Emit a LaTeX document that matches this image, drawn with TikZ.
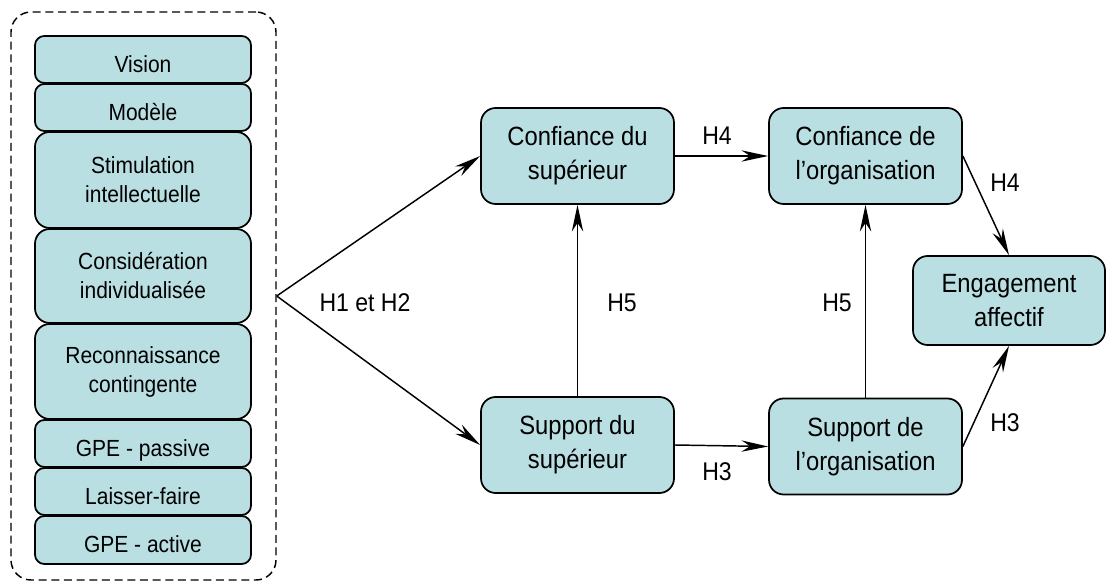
\documentclass[tikz,border=0pt]{standalone}
\usepackage{fontspec}
\setmainfont{Liberation Sans}[FakeStretch=0.9]
\usetikzlibrary{arrows.meta}
\definecolor{boxfill}{HTML}{BADFE2}
\tikzset{
  leftbox/.style={draw=black, fill=boxfill, line width=1.3pt, rounded corners=7pt,
    minimum width=162pt, inner sep=0pt, align=center,
    font=\fontsize{17.5pt}{21.75pt}\selectfont},
  onebox/.style={leftbox, minimum height=35.25pt, text height=19pt, text depth=0pt},
  twobox/.style={leftbox, rounded corners=11pt},
  mainbox/.style={draw=black, fill=boxfill, line width=1.3pt, rounded corners=11pt,
    minimum width=144.75pt, minimum height=72pt, inner sep=0pt, align=center,
    font=\fontsize{19.8pt}{25.5pt}\selectfont},
  lab/.style={font=\fontsize{19.2pt}{22pt}\selectfont, inner sep=0pt},
  arr/.style={line width=1.1pt, -{Stealth[length=20pt, width=8.5pt, inset=6.5pt]}},
  groupbox/.style={draw=black, dash pattern=on 6pt off 3.5pt, line width=1.1pt,
    rounded corners=15pt, minimum width=198.75pt, minimum height=426pt, inner sep=0pt}
}
\begin{document}
\begin{tikzpicture}[x=0.75pt, y=-0.75pt]
\useasboundingbox (0,0) rectangle (1107,584);
% group
\node[groupbox] (group) at (143.5,296) {};
% left stack
\node[onebox] (vision) at (143,59.5) {Vision};
\node[onebox] (modele) at (143,107.5) {Modèle};
\node[twobox, minimum height=72pt] (stim) at (143,180) {Stimulation\\intellectuelle};
\node[twobox, minimum height=70.5pt] (consid) at (143,276) {Considération\\individualisée};
\node[twobox, minimum height=71.25pt] (recon) at (143,371.5) {Reconnaissance\\contingente};
\node[onebox] (gpep) at (143,443.5) {GPE - passive};
\node[onebox] (laisser) at (143,491.5) {Laisser-faire};
\node[onebox, minimum height=36pt] (gpea) at (143,540) {GPE - active};
% main boxes
\node[mainbox] (cs) at (577.5,156) {Confiance du\\supérieur};
\node[mainbox] (ss) at (577.5,445) {Support du\\supérieur};
\node[mainbox] (co) at (865.5,156) {Confiance de\\l’organisation};
\node[mainbox] (so) at (865.5,446.5) {Support de\\l’organisation};
\node[mainbox, minimum width=144pt, minimum height=66.75pt] (eng) at (1009,300.5) {Engagement\\affectif};
% arrows
\draw[arr] (group.east) -- (cs.west);
\draw[arr] (group.east) -- (ss.west);
\draw[arr] (cs.east) -- (co.west);
\draw[arr] (ss.east) -- (so.west);
\draw[arr] (ss.north) -- (cs.south);
\draw[arr] (so.north) -- (co.south);
\draw[arr] (co.east) -- (eng.north);
\draw[arr] (so.east) -- (eng.south);
% labels
\node[lab] (l12) at (365,303) {H1 et H2};
\node[lab] (l5a) at (622,303) {H5};
\node[lab] (l5b) at (837,303) {H5};
\node[lab] (l4a) at (717,136) {H4};
\node[lab] (l3a) at (717,472) {H3};
\node[lab] (l4b) at (1005,183) {H4};
\node[lab] (l3b) at (1005,423) {H3};
\end{tikzpicture}
\end{document}
